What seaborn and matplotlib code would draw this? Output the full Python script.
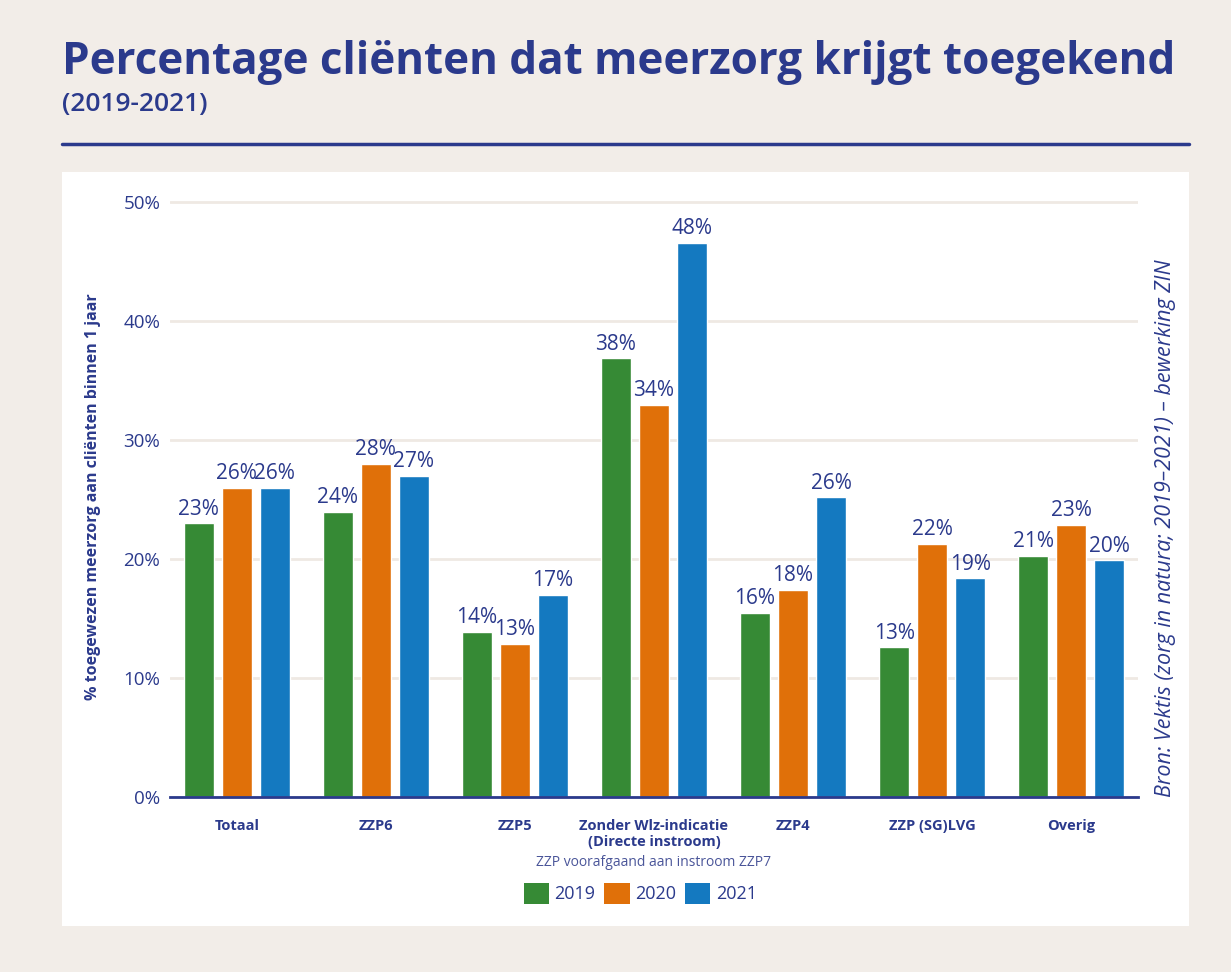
import pandas as pd
import matplotlib.pyplot as plt
import matplotlib.patches as mpatches
from matplotlib.lines import Line2D
import seaborn as sns

categorieen = ['Totaal', 'ZZP6', 'ZZP5', 'Zonder Wlz-indicatie\n(Directe instroom)',
               'ZZP4', 'ZZP (SG)LVG', 'Overig']
jaren = ['2019', '2020', '2021']
w2019 = [23.0, 24.0, 13.9, 36.9, 15.5, 12.6, 20.3]
w2020 = [26.0, 28.0, 12.9, 33.0, 17.4, 21.3, 22.9]
w2021 = [26.0, 27.0, 17.0, 46.6, 25.2, 18.4, 19.9]
lab2019 = ['23%', '24%', '14%', '38%', '16%', '13%', '21%']
lab2020 = ['26%', '28%', '13%', '34%', '18%', '22%', '23%']
lab2021 = ['26%', '27%', '17%', '48%', '26%', '19%', '20%']

kleuren = ['#368a35', '#e07009', '#1479c0']
navy = '#2b3a8c'
bg = '#f2ede8'

dane = pd.DataFrame({
    'categorie': categorieen * 3,
    'jaar': [j for j in jaren for _ in categorieen],
    'waarde': w2019 + w2020 + w2021,
})
labels = lab2019 + lab2020 + lab2021

sns.set_style('white')
plt.rcParams['font.family'] = ['Open Sans', 'DejaVu Sans']

fig = plt.figure(figsize=(12.31, 9.72), dpi=100, facecolor=bg)

# wit paneel
fig.patches.append(mpatches.Rectangle((0.0504, 0.0473), 0.9155, 0.7757, transform=fig.transFigure,
                                      facecolor='white', edgecolor='none', zorder=-1))

fig.text(0.0504, 0.936, 'Percentage cliënten dat meerzorg krijgt toegekend', fontsize=31.7,
         fontweight='bold', color=navy, va='center', ha='left')
fig.text(0.0504, 0.892, '(2019-2021)', fontsize=19, fontweight='semibold', color=navy,
         va='center', ha='left')
fig.lines.append(Line2D([0.0504, 0.966], [0.852, 0.852], transform=fig.transFigure,
                        color=navy, linewidth=2.5))

ax = fig.add_axes([0.1381, 0.18, 0.7863, 0.618])
ax.set_facecolor('none')
sns.barplot(data=dane, x='categorie', y='waarde', hue='jaar', palette=kleuren, saturation=1,
            width=0.82, gap=0.2, ax=ax, legend=False, zorder=3)

for bar, lab in zip(ax.patches, labels):
    ax.text(bar.get_x() + bar.get_width() / 2, bar.get_height() + 0.3, lab,
            ha='center', va='bottom', fontsize=15, color=navy, zorder=4)

ax.set_xlim(-0.48, 6.48)
ax.set_ylim(0, 50.5)
ax.set_yticks([0, 10, 20, 30, 40, 50])
ax.set_yticklabels([f'{v}%' for v in [0, 10, 20, 30, 40, 50]])
ax.yaxis.grid(True, color='#efe9e3', linewidth=2, zorder=0)
ax.set_axisbelow(True)
for s in ['top', 'right', 'left']:
    ax.spines[s].set_visible(False)
ax.spines['bottom'].set_color(navy)
ax.spines['bottom'].set_linewidth(2)
ax.spines['bottom'].set_zorder(5)
ax.tick_params(axis='y', length=0, pad=7, labelsize=13.5, labelcolor=navy)
ax.tick_params(axis='x', length=0, pad=16, labelsize=10.5, labelcolor=navy)
for t in ax.get_xticklabels():
    t.set_fontweight('bold')

ax.set_xlabel('ZZP voorafgaand aan instroom ZZP7', fontsize=10, color='#4a5599', labelpad=4)
ax.set_ylabel('% toegewezen meerzorg aan cliënten binnen 1 jaar', fontsize=11.5,
              fontweight='bold', color=navy, labelpad=16)

handles = [mpatches.Patch(facecolor=k, edgecolor='none') for k in kleuren]
fig.legend(handles, jaren, loc='center', bbox_to_anchor=(0.52, 0.081), ncol=3, frameon=False,
           fontsize=13, labelcolor=navy, handlelength=1.4, handleheight=1.4,
           handletextpad=0.3, columnspacing=0.5)

fig.text(0.947, 0.18, 'Bron: Vektis (zorg in natura; 2019–2021) – bewerking ZIN', rotation=90,
         fontsize=15.5, fontstyle='italic', color=navy, ha='center', va='bottom')

plt.savefig('out.png', dpi=100, facecolor=bg)
